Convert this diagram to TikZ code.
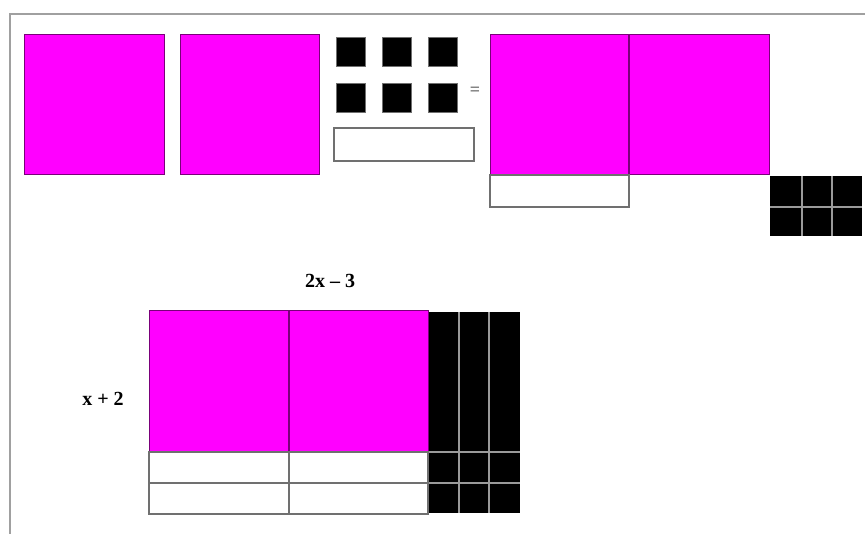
\documentclass[tikz,border=0pt]{standalone}
\usepackage{fontspec}
\setmainfont{Liberation Serif}
\definecolor{mag}{HTML}{FF00FF}
\definecolor{magedge}{HTML}{7A007A}
\definecolor{frame}{HTML}{A0A0A0}
\definecolor{edge}{HTML}{707070}
\definecolor{gridline}{HTML}{9A9A9A}
\begin{document}
\begin{tikzpicture}[x=1pt,y=-1pt,
  magbox/.style={fill=mag,draw=magedge,line width=1pt},
  whitebox/.style={fill=white,draw=edge,line width=1.3pt},
  unitbox/.style={fill=black,draw=edge,line width=0.6pt},
  gline/.style={draw=gridline,line width=1.5pt},
  lbl/.style={font=\bfseries\fontsize{20}{20}\selectfont,inner sep=0pt}]
\useasboundingbox (0,0) rectangle (865,534);
% frame
\draw[frame,line width=1.5pt] (865,14) -- (10,14) -- (10,534);
% top row: two x^2 tiles
\draw[magbox] (24,35) rectangle (164,175);
\draw[magbox] (180,35) rectangle (319,175);
% six unit tiles
\foreach \cx in {336,382,428}{
  \draw[unitbox] (\cx,37) rectangle ++(29,29);
  \draw[unitbox] (\cx,83) rectangle ++(29,29);
}
% one x tile (negative)
\draw[whitebox] (334,128) rectangle (474,161);
% equals sign
\node[inner sep=0pt,font=\bfseries\fontsize{18}{18}\selectfont,text=edge] (eq) at (475,91) {=};
% right: result arrangement
\draw[magbox] (490,35) rectangle (769,175);
\draw[magedge,line width=1.2pt] (629,35) -- (629,175);
\draw[whitebox] (490,175) rectangle (629,207);
\fill[black] (770,176) rectangle (862,236);
\draw[gline] (802,176) -- (802,236);
\draw[gline] (832,176) -- (832,236);
\draw[gline] (770,207) -- (862,207);
% bottom: area model
\node[lbl] (top) at (330,281) {2x -- 3};
\node[lbl] (side) at (103,399) {x + 2};
\draw[magbox] (149,311) rectangle (428,452);
\draw[magedge,line width=1.2pt] (289,311) -- (289,452);
\draw[whitebox] (149,452) rectangle (428,514);
\draw[edge,line width=1.3pt] (149,483) -- (428,483);
\draw[edge,line width=1.3pt] (289,452) -- (289,514);
\fill[black] (429,312) rectangle (520,513);
\draw[gline] (459,312) -- (459,513);
\draw[gline] (489,312) -- (489,513);
\draw[gline] (429,452) -- (520,452);
\draw[gline] (429,483) -- (520,483);
\end{tikzpicture}
\end{document}
